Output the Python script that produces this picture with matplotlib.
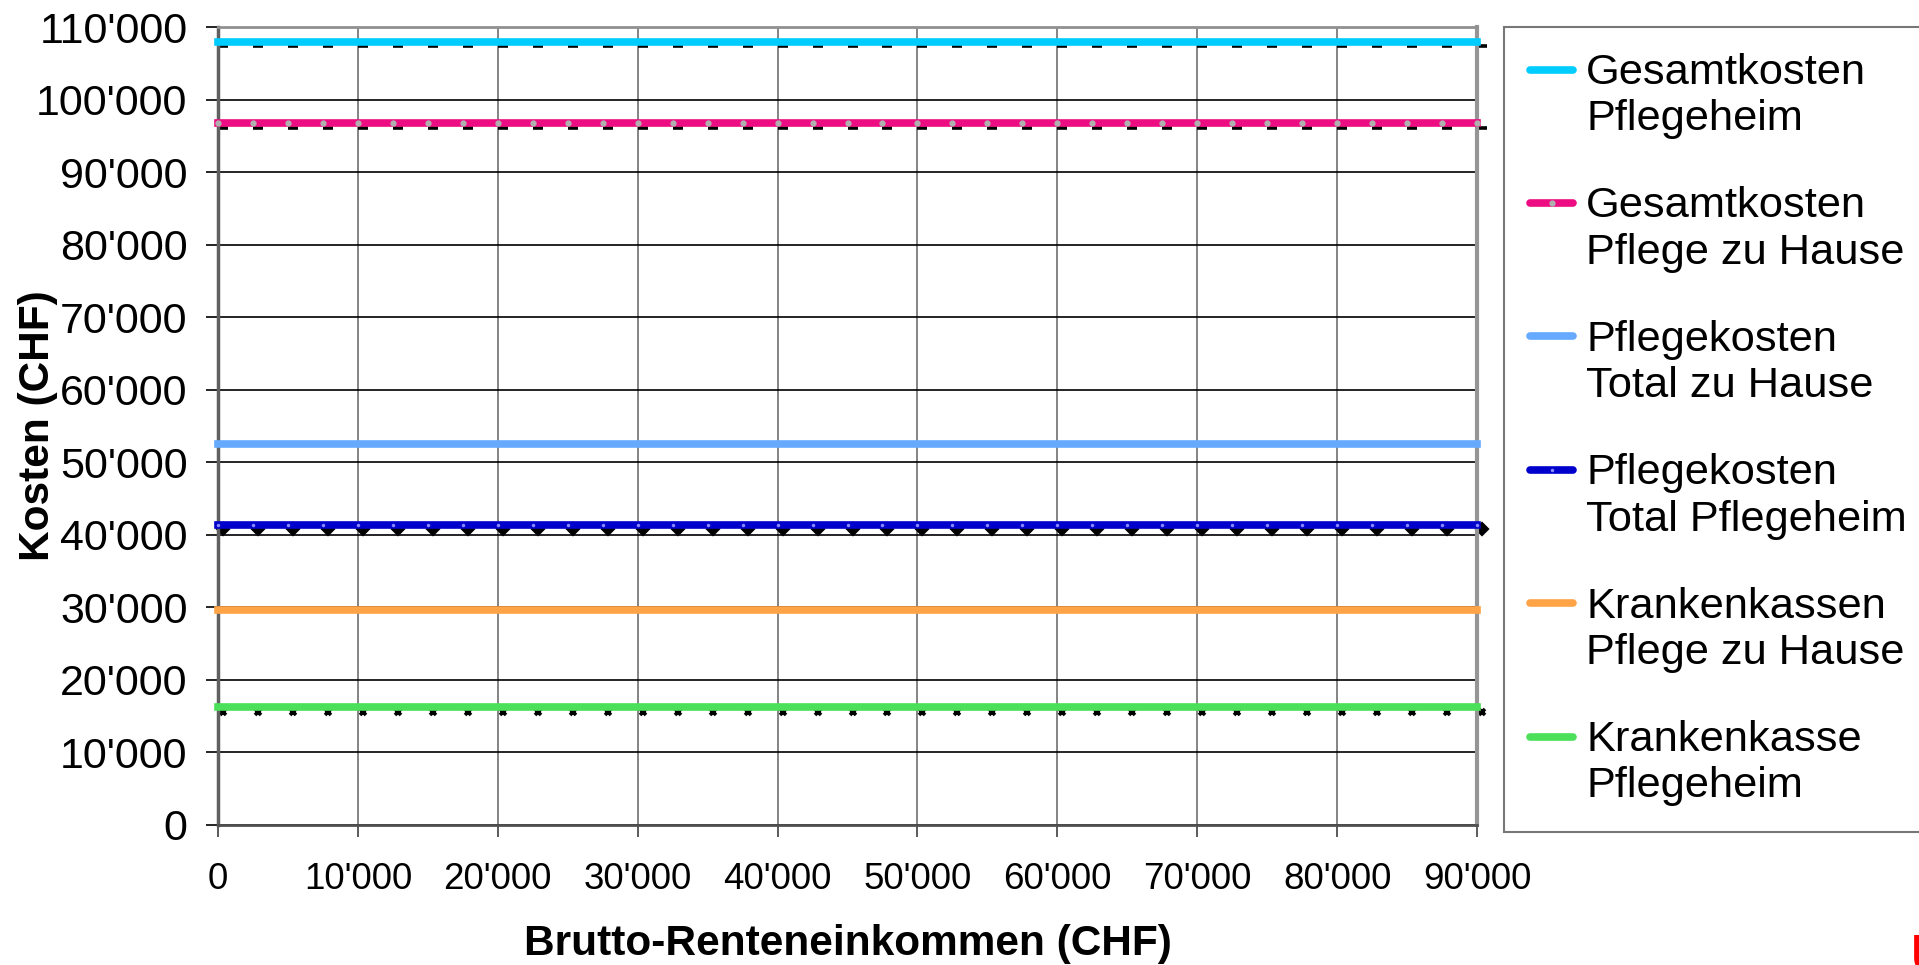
import numpy as np
import matplotlib.pyplot as plt
import matplotlib.transforms as mtransforms
from matplotlib.ticker import FuncFormatter, MultipleLocator
from matplotlib.legend_handler import HandlerLine2D
from matplotlib.lines import Line2D

plt.rcParams['font.family'] = ['Liberation Sans', 'DejaVu Sans']

# Daten
einkommen = np.arange(0, 90001, 2500)

reihen = ['Gesamtkosten\nPflegeheim', 'Gesamtkosten\nPflege zu Hause',
          'Pflegekosten\nTotal zu Hause', 'Pflegekosten\nTotal Pflegeheim',
          'Krankenkassen\nPflege zu Hause', 'Krankenkasse\nPflegeheim']
kosten = [108000, 96800, 52500, 41300, 29700, 16300]
farben = ['#00CCFF', '#EE0C82', '#66AAFF', '#0000CC', '#FFA347', '#4CE05A']

# schwarze Markerreihen unter den farbigen Linien
kosten_schwarz = [107400, 96100, 40800, 15600]
marker_schwarz = ['_', '_', 'D', 'x']

fig = plt.figure(figsize=(19.19, 9.65), dpi=100)
ax = fig.add_axes([218/1919, 1-825/965, 1259/1919, 798/965])

# schwarze Marker, leicht nach rechts verschoben
trans_s = mtransforms.offset_copy(ax.transData, fig=fig, x=5, y=0, units='dots')
for wert, m in zip(kosten_schwarz, marker_schwarz):
    ms = {'_': 6.5, 'D': 5, 'x': 5}[m]
    ax.plot(einkommen, np.full(len(einkommen), wert), linestyle='none', marker=m,
            color='black', markersize=ms, markeredgewidth=2.6, transform=trans_s,
            clip_on=False, zorder=2)

handles = []
for i, (lab, wert, f) in enumerate(zip(reihen, kosten, farben)):
    mk = dict(marker='None')
    if i == 1:
        mk = dict(marker='o', markersize=3.5, markerfacecolor='#B0B0B0', markeredgecolor='#B0B0B0')
    elif i == 3:
        mk = dict(marker='o', markersize=1.5, markerfacecolor='#8888FF', markeredgecolor='#8888FF')
    ax.plot(einkommen, np.full(len(einkommen), wert), color=f, lw=5.5,
            solid_capstyle='projecting', clip_on=False, zorder=3, **mk)
    handles.append(Line2D([], [], color=f, lw=5.5, solid_capstyle='round', **mk))

ax.set_xlim(0, 90000)
ax.set_ylim(0, 110000)
ax.xaxis.set_major_locator(MultipleLocator(10000))
ax.yaxis.set_major_locator(MultipleLocator(10000))
fmt = FuncFormatter(lambda v, p: f"{int(v):,}".replace(',', "'"))
ax.xaxis.set_major_formatter(fmt)
ax.yaxis.set_major_formatter(fmt)

ax.set_axisbelow(True)
ax.xaxis.grid(True, color='#707070', lw=1.2)
ax.yaxis.grid(True, color='black', lw=1.2)

ax.spines['left'].set_color('#606060')
ax.spines['left'].set_linewidth(2.5)
ax.spines['right'].set_color('#959595')
ax.spines['right'].set_linewidth(3)
ax.spines['top'].set_color('#909090')
ax.spines['top'].set_linewidth(2)
ax.spines['bottom'].set_color('#505050')
ax.spines['bottom'].set_linewidth(2)

ax.tick_params(axis='x', length=8.5, width=1.2, color='#404040', pad=18, labelsize=26.5)
ax.tick_params(axis='y', length=9, width=1.2, color='black', pad=13, labelsize=31)

ax.set_xlabel('Brutto-Renteneinkommen (CHF)', fontsize=30.5, fontweight='bold')
ax.xaxis.set_label_coords(0.5, (825-944)/798)
ax.xaxis.label.set_va('center')
ax.set_ylabel('Kosten (CHF)', fontsize=30.5, fontweight='bold')
ax.yaxis.set_label_coords((38-218)/1259, 0.5)
ax.yaxis.label.set_va('center')


class ErsteZeile(HandlerLine2D):
    # Linie auf Höhe der ersten Textzeile
    def create_artists(self, legend, orig_handle, xdescent, ydescent, width, height, fontsize, trans):
        shift = 0.62 * fontsize
        return super().create_artists(legend, orig_handle, xdescent, ydescent - 2*shift,
                                      width, height, fontsize, trans)


leg = fig.legend(handles, reihen, loc='upper left', bbox_to_anchor=(1504/1919, 1-27/965),
                 borderaxespad=0, fontsize=31.2, frameon=True, fancybox=False,
                 borderpad=0.6, labelspacing=1.09, handlelength=1.0, handletextpad=0.3,
                 numpoints=1, handler_map={Line2D: ErsteZeile()})
leg.get_frame().set_edgecolor('#555555')
leg.get_frame().set_linewidth(1.5)

fig.text(1911/1919, 1-932/965, 'U', color='red', fontweight='bold', fontsize=38,
         ha='left', va='top')

plt.savefig('out.png', dpi=100)
